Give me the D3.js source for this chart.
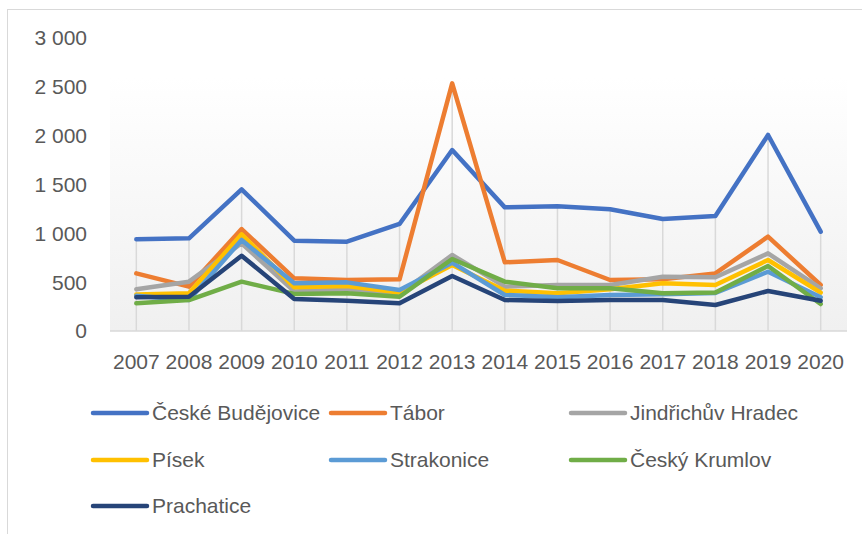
<!DOCTYPE html>
<html><head><meta charset="utf-8">
<script src="https://cdn.jsdelivr.net/npm/d3@7"></script>
<style>body{margin:0;background:#fff}svg{display:block}text{font-family:"Liberation Sans",Arial,sans-serif;fill:#595959}</style>
</head><body><svg id="c" width="862" height="534"></svg>
<script>
const years = ["2007","2008","2009","2010","2011","2012","2013","2014","2015","2016","2017","2018","2019","2020"];
const seriesNames = ["České Budějovice","Tábor","Jindřichův Hradec","Písek","Strakonice","Český Krumlov","Prachatice"];
const ceskeBudejovice = [940,949,1451,925,915,1096,1853,1266,1277,1246,1147,1177,2007,1017];
const tabor = [590,454,1044,539,522,529,2536,703,727,522,529,590,966,471];
const jindrichuvHradec = [427,505,898,405,427,380,778,454,471,471,556,550,795,437];
const pisek = [375,386,990,447,461,393,676,413,386,427,488,471,727,393];
const strakonice = [360,317,932,488,498,420,700,369,345,369,375,390,607,345];
const ceskyKrumlov = [283,317,505,380,386,351,737,505,437,437,386,393,666,276];
const prachatice = [345,351,771,328,310,283,563,317,307,317,317,266,410,310];
const yTicks = [0,500,1000,1500,2000,2500,3000];
const colors = ["#4472C4","#ED7D31","#A5A5A5","#FFC000","#5B9BD5","#70AD47","#264478"];
const values = [ceskeBudejovice,tabor,jindrichuvHradec,pisek,strakonice,ceskyKrumlov,prachatice];

const svg = d3.select("#c");
const x = d3.scaleBand().domain(years).range([110,847]);
const cx = d => x(d) + x.bandwidth()/2;
const y = d3.scaleLinear().domain([0,3000]).range([331,38]);
const fmt = d3.formatLocale({decimal:",",thousands:"\u00a0",grouping:[3],currency:["","Kč"]}).format(",d");

// outer frame
svg.append("rect").attr("x",7.5).attr("y",9.5).attr("width",880).attr("height",560)
  .attr("fill","#fff").attr("stroke","#d9d9d9").attr("stroke-width",1);

// plot area gradient
const defs = svg.append("defs");
const g = defs.append("linearGradient").attr("id","pg").attr("x1",0).attr("y1",0).attr("x2",0).attr("y2",1);
g.append("stop").attr("offset","0%").attr("stop-color","#ffffff");
g.append("stop").attr("offset","100%").attr("stop-color","#f0f0f0");
svg.append("rect").attr("x",110).attr("y",77).attr("width",737).attr("height",254).attr("fill","url(#pg)");

// y axis labels
svg.append("g").selectAll("text").data(yTicks).join("text")
  .attr("x",87).attr("y",d=>y(d)).attr("dy","0.35em").attr("text-anchor","end")
  .attr("font-size",21).text(d=>fmt(d));

// drop lines
svg.append("g").selectAll("line").data(years).join("line")
  .attr("x1",d=>cx(d)).attr("x2",d=>cx(d))
  .attr("y1",y(0)).attr("y2",(d,i)=>y(d3.max(values,s=>s[i])))
  .attr("stroke","#d9d9d9").attr("stroke-width",1.5);

// x axis line
svg.append("line").attr("x1",110).attr("x2",847).attr("y1",y(0)).attr("y2",y(0))
  .attr("stroke","#d9d9d9").attr("stroke-width",1.5);

// x labels
svg.append("g").selectAll("text").data(years).join("text")
  .attr("x",d=>cx(d)).attr("y",362).attr("dy","0.35em").attr("text-anchor","middle")
  .attr("font-size",21).text(d=>d);

// lines
const line = d3.line().x((d,i)=>cx(years[i])).y(d=>y(d));
svg.append("g").selectAll("path").data(values).join("path")
  .attr("d",d=>line(d)).attr("fill","none").attr("stroke",(d,i)=>colors[i])
  .attr("stroke-width",4.5).attr("stroke-linejoin","round").attr("stroke-linecap","round");

// legend
const legX = [93,331,571];
const legY = [413,460,506];
const lg = svg.append("g").selectAll("g").data(seriesNames).join("g")
  .attr("transform",(d,i)=>`translate(${legX[i%3]},${legY[Math.floor(i/3)]})`);
lg.append("line").attr("x1",0).attr("x2",54).attr("y1",0).attr("y2",0)
  .attr("stroke",(d,i)=>colors[i]).attr("stroke-width",4.5).attr("stroke-linecap","round");
lg.append("text").attr("x",59).attr("y",0).attr("dy","0.35em").attr("font-size",21).text(d=>d);
</script></body></html>
